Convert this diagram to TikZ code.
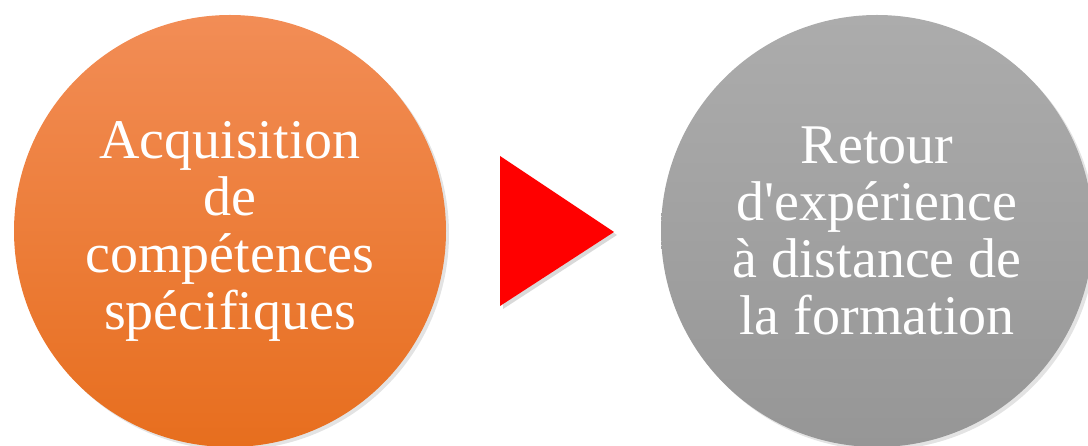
\documentclass[tikz,border=0pt]{standalone}
\usepackage{fontspec}
\setmainfont{Liberation Serif}
\usetikzlibrary{shadows}

\begin{document}
\begin{tikzpicture}[x=1pt,y=1pt,
	bubble/.style={circle, minimum size=432pt, inner sep=0pt, align=center,
		text=white, font=\fontsize{56}{57}\selectfont,
		drop shadow={opacity=0.22, shadow xshift=3pt, shadow yshift=-3pt}},
	]
	\useasboundingbox (0,0) rectangle (1088,446);
	
	%Farben
	\definecolor{orgtop}{RGB}{242,141,86}
	\definecolor{orgbot}{RGB}{231,110,30}
	\definecolor{grytop}{RGB}{172,172,172}
	\definecolor{grybot}{RGB}{150,150,150}
	\definecolor{arrred}{RGB}{255,0,0}
	
	%Kreise
	\node[bubble, top color=orgtop, bottom color=orgbot] (acq) at (230,215)
		{Acquisition\\de\\compétences\\spécifiques};
	\node[bubble, top color=grytop, bottom color=grybot] (ret) at (877,215)
		{Retour\\d\textquotesingle expérience\\à distance de\\la formation};
	
	%Pfeil
	\coordinate (tip) at (614,214);
	\fill[black, opacity=0.15] (503,287)--(503,137)--(617,211)--cycle;
	\fill[arrred] (500,290)--(500,140)--(tip)--cycle;
	
\end{tikzpicture}
\end{document}
